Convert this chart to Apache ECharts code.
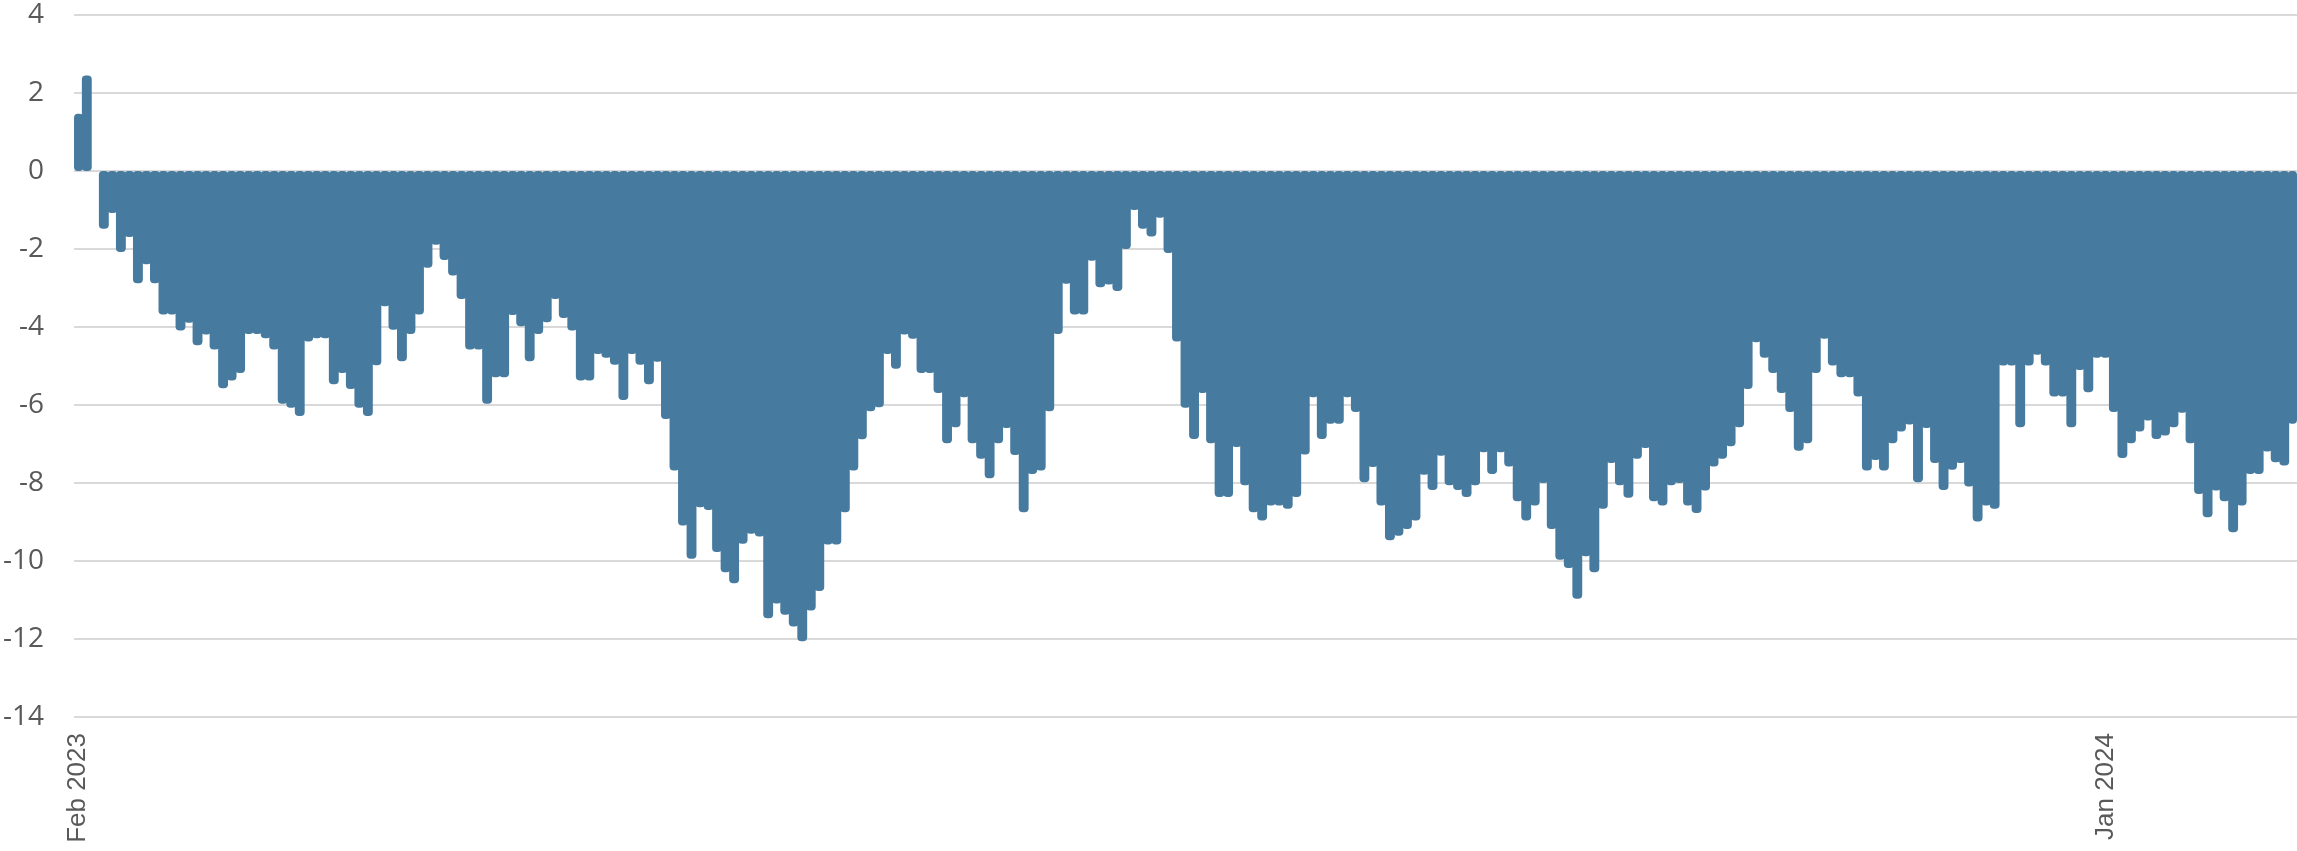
<!DOCTYPE html>
<html>
<head>
<meta charset="utf-8">
<script src="https://cdn.jsdelivr.net/npm/echarts@6/dist/echarts.min.js"></script>
<style>
  html, body { margin: 0; padding: 0; background: #ffffff; }
  #chart { width: 2297px; height: 851px; }
</style>
</head>
<body>
<div id="chart"></div>
<script>
// ---- Data (daily weekday observations, Feb 2023 - Jan 2024) ----
const startDate = '2023-02-01';
const endDate = '2024-01-31';

const valuesFebMar2023 = [1.47, 2.45, null, -1.48, -1.08, -2.08, -1.69, -2.88, -2.39, -2.88, -3.68, -3.68, -4.09, -3.89, -4.47, -4.19, -4.58, -5.57, -5.37, -5.18,
  -4.18, -4.18, -4.29, -4.58, -5.97, -6.07, -6.28, -4.37, -4.29, -4.29, -5.47, -5.18, -5.59, -6.07, -6.28, -4.98, -3.47, -4.07, -4.88, -4.18, -3.68, -2.48, -1.89];
const valuesAprJun2023 = [-2.28, -2.68, -3.28, -4.58, -4.58, -5.97, -5.29, -5.29, -3.69, -3.98, -4.88, -4.18, -3.88, -3.28, -3.77, -4.09, -5.37, -5.37, -4.69, -4.79,
  -4.97, -5.87, -4.69, -4.97, -5.47, -4.89, -6.36, -7.68, -9.09, -9.94, -8.62, -8.69, -9.77, -10.29, -10.57, -9.56, -9.30, -9.37, -11.47, -11.09,
  -11.38, -11.68, -12.06, -11.27, -10.77, -9.58, -9.58, -8.75, -7.68, -6.88, -6.16, -6.06, -4.69, -5.07, -4.19, -4.30, -5.18, -5.18, -5.69, -6.98];
const valuesJulSep2023 = [-6.57, -5.80, -6.98, -7.38, -7.88, -6.98, -6.59, -7.28, -8.75, -7.77, -7.68, -6.16, -4.18, -2.89, -3.68, -3.68, -2.30, -2.98, -2.91, -3.08,
  -2.00, -1.00, -1.48, -1.68, -1.20, -2.10, -4.37, -6.07, -6.87, -5.69, -6.98, -8.36, -8.36, -7.08, -8.06, -8.75, -8.96, -8.58, -8.58, -8.66,
  -8.36, -7.27, -5.80, -6.87, -6.48, -6.48, -5.80, -6.18, -7.98, -7.59, -8.58, -9.47, -9.35, -9.18, -8.96, -7.79, -8.18, -7.30, -8.06, -8.18];
const valuesOctDec2023 = [-8.36, -8.06, -7.21, -7.77, -7.21, -7.58, -8.47, -8.96, -8.58, -8.00, -9.18, -9.97, -10.18, -10.97, -9.88, -10.29, -8.66, -7.49, -8.06, -8.38,
  -7.38, -7.10, -8.47, -8.58, -8.06, -8.00, -8.58, -8.77, -8.19, -7.58, -7.38, -7.06, -6.57, -5.59, -4.39, -4.79, -5.18, -5.69, -6.18, -7.17,
  -6.98, -5.18, -4.30, -4.99, -5.29, -5.29, -5.78, -7.68, -7.41, -7.68, -6.98, -6.68, -6.50, -7.98, -6.59, -7.49, -8.18, -7.66, -7.49, -8.09,
  -8.99, -8.58, -8.66, -4.99, -4.99, -6.57, -4.99, -4.71, -4.99, -5.78, -5.78, -6.57, -5.10, -5.67, -4.79];
const valuesJan2024 = [-4.79, -6.18, -7.36, -6.98, -6.68, -6.40, -6.87, -6.78, -6.57, -6.20, -6.98, -8.28, -8.88, -8.19, -8.47, -9.26, -8.58, -7.77, -7.77, -7.19,
  -7.47, -7.55, -6.48];

const values = [].concat(valuesFebMar2023, valuesAprJun2023, valuesJulSep2023, valuesOctDec2023, valuesJan2024);

// x tick labels shown
const xTickDates = ['2023-02-01', '2024-01-01'];
const xTickLabels = ['Feb 2023', 'Jan 2024'];

// y axis ticks
const yMin = -14, yMax = 4, yStep = 2;

// ---- Build weekday categories ----
function weekdayList(s, e) {
  const out = [];
  const d = new Date(s + 'T00:00:00Z');
  const end = new Date(e + 'T00:00:00Z');
  while (d <= end) {
    const wd = d.getUTCDay();
    if (wd !== 0 && wd !== 6) out.push(d.toISOString().slice(0, 10));
    d.setUTCDate(d.getUTCDate() + 1);
  }
  return out;
}
const categories = weekdayList(startDate, endDate);

const barColor = '#467a9e';

const chart = echarts.init(document.getElementById('chart'), null, { renderer: 'canvas' });
chart.setOption({
  animation: false,
  backgroundColor: '#ffffff',
  grid: { left: 72, right: 0, top: 15, bottom: 134, containLabel: false },
  xAxis: {
    type: 'category',
    data: categories,
    boundaryGap: true,
    axisLine: { show: false, onZero: false },
    axisTick: { show: false },
    splitLine: { show: false },
    axisLabel: {
      rotate: 90,
      margin: 16,
      fontFamily: 'Liberation Sans',
      fontSize: 26,
      color: '#595959',
      interval: function (idx, val) { return xTickDates.indexOf(val) >= 0; },
      formatter: function (val) {
        const k = xTickDates.indexOf(val);
        return k >= 0 ? xTickLabels[k] : '';
      }
    }
  },
  yAxis: {
    type: 'value',
    min: yMin,
    max: yMax,
    interval: yStep,
    axisLine: { show: false },
    axisTick: { show: false },
    splitLine: { lineStyle: { color: '#d9d9d9', width: 2 } },
    axisLabel: {
      margin: 30,
      fontFamily: 'Open Sans',
      fontSize: 28,
      color: '#595959'
    }
  },
  series: [{
    type: 'bar',
    data: values,
    barWidth: '116%',
    itemStyle: {
      color: barColor,
      borderRadius: 4
    },
    emphasis: { disabled: true }
  }]
});
</script>
</body>
</html>
